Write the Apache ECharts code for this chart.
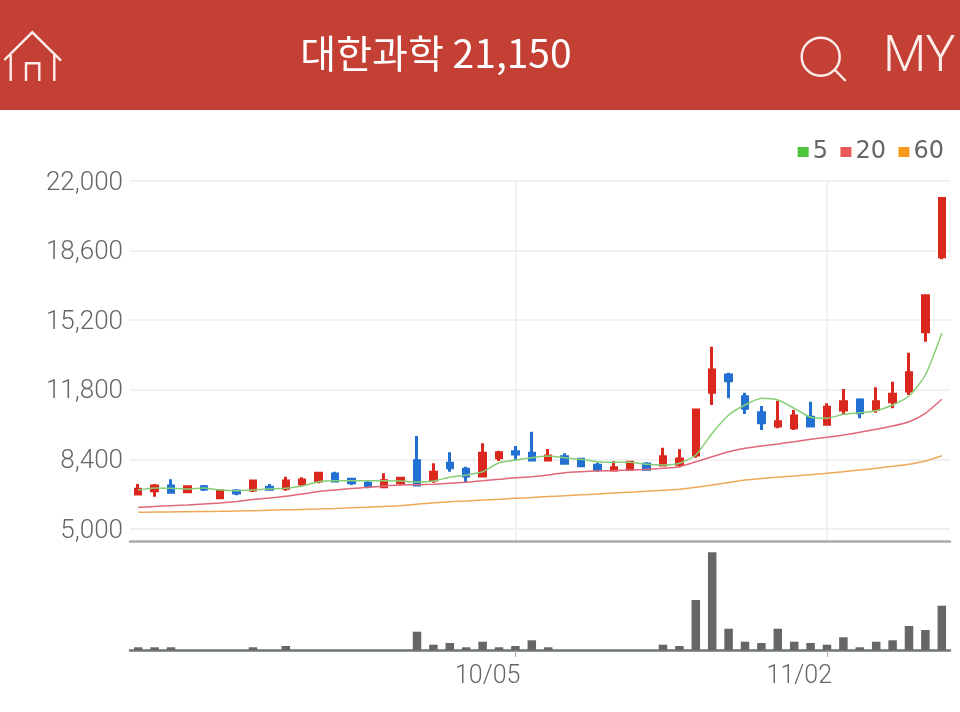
<!DOCTYPE html>
<html>
<head>
<meta charset="utf-8">
<title>대한과학</title>
<style>
html, body { margin: 0; padding: 0; background: #fff; }
#chart { width: 960px; height: 712px; }
</style>
<script src="https://cdn.jsdelivr.net/npm/echarts@6/dist/echarts.min.js"></script>
</head>
<body>
<div id="chart"></div>
<script>
var titleText = '대한과학 21,150';

var dates = ['08/28','08/31','09/01','09/02','09/03','09/04','09/07','09/08','09/09','09/10',
  '09/11','09/14','09/15','09/16','09/17','09/18','09/21','09/22','09/23','09/24',
  '09/25','09/28','09/29','10/05','10/06','10/07','10/08','10/12','10/13','10/14',
  '10/15','10/16','10/19','10/20','10/21','10/22','10/23','10/26','10/27','10/28',
  '10/29','10/30','11/02','11/03','11/04','11/05','11/06','11/09','11/10','11/11'];
var tickDates = ['10/05', '11/02'];
var priceTicks = [5000, 8400, 11800, 15200, 18600, 22000];

// open, close, low, high
var candles = [
  [6710,6939,6661,7198],[6871,7101,6578,7198],[7101,6793,6744,7428],[6822,7066,6744,7066],[7066,6954,6856,7149],
  [6529,6871,6514,6905],[6856,6759,6646,6939],[6905,7345,6807,7345],[7037,6939,6905,7198],[6988,7345,6871,7555],
  [7198,7394,7101,7526],[7345,7721,7232,7721],[7687,7345,7345,7799],[7428,7262,7149,7428],[7232,7101,6988,7345],
  [7066,7359,7052,7721],[7262,7477,7149,7555],[8336,7149,7149,9543],[7394,7770,7262,8209],[8209,7995,7799,8747],
  [7916,7589,7262,8043],[7589,8698,7589,9186],[8483,8727,8322,8825],[8776,8664,8336,9055],[8698,8371,8322,9753],
  [8371,8566,8371,8908],[8532,8209,8209,8698],[8405,8092,8092,8405],[8112,7916,7799,8239],[7882,7995,7848,8322],
  [7916,8258,7916,8336],[8175,7916,7916,8258],[8126,8532,8092,8972],[8161,8420,8014,8893],[8615,10813,8483,10813],
  [11678,12767,11057,13905],[12523,12245,11385,12635],[11463,10896,10618,11658],[10681,10193,9836,11009],[10032,10242,9919,11267],
  [9949,10520,9836,10813],[10457,10032,9968,11219],[10115,10945,10046,11141],[10813,11219,10603,11839],[11302,10681,10408,11385],
  [10847,11219,10681,11922],[11219,11580,10896,12196],[11741,12635,11546,13612],[14638,16397,14150,16397],[18302,21150,18175,21150]
];

var ma5 = [6905,7003,6988,6954,7003,6905,6871,6905,6954,6988,7101,7311,7359,7359,7359,7359,7345,7300,7345,7526,
  7638,7799,8239,8371,8483,8566,8483,8405,8288,8258,8258,8161,8126,8209,8615,9675,10569,11057,11385,11302,
  10896,10457,10408,10603,10681,10779,11057,11497,12523,14560];
var ma20 = [6060,6099,6138,6172,6221,6270,6343,6441,6514,6597,6710,6832,6905,6978,7037,7101,7149,7160,7184,7232,
  7281,7359,7428,7506,7555,7638,7750,7799,7833,7848,7882,7916,7965,8043,8288,8532,8776,8942,9055,9152,
  9265,9382,9480,9592,9724,9870,10032,10242,10652,11336];
var ma60 = [5816,5825,5835,5845,5855,5865,5880,5894,5915,5935,5955,5977,6005,6035,6065,6100,6138,6210,6285,6330,
  6370,6415,6455,6500,6540,6585,6625,6670,6710,6755,6800,6845,6890,6939,7040,7149,7270,7390,7470,7530,
  7590,7655,7721,7800,7885,7965,8060,8161,8320,8581];
var volumes = [2.7,2.7,2.7,0,0,0,0,2.7,0,4,0,0,0,0,0,0,0,18.3,5.3,7,
  2.7,8.3,2.7,4,9.7,2.7,0,0,0,0,0,0,5.3,4,50,97.7,21.3,8.3,7,21.3,
  8.3,7,5.3,12.7,2.7,8.3,9.7,24,20,44.3];

var RED = '#da281f';
var BLUE = '#2270d2';
var CJK = '"Noto Sans CJK KR", sans-serif';

function isTickDate(index, value) {
  return tickDates.indexOf(value) >= 0;
}

function maSeries(name, data, legendColor, lineColor) {
  return {
    name: name,
    type: 'line',
    data: data,
    xAxisIndex: 0,
    yAxisIndex: 0,
    symbol: 'none',
    smooth: 0.2,
    z: 3,
    itemStyle: { color: legendColor },
    lineStyle: { color: lineColor, width: 1.5 }
  };
}

var myChart = echarts.init(document.getElementById('chart'), null, { renderer: 'canvas' });

var option = {
  animation: false,
  backgroundColor: '#fff',
  textStyle: { fontFamily: 'Roboto, sans-serif' },
  legend: {
    data: ['5', '20', '60'],
    top: 135,
    right: 11,
    icon: 'rect',
    itemWidth: 11,
    itemHeight: 10,
    itemGap: 12.5,
    selectedMode: false,
    textStyle: { color: '#666', fontSize: 24, fontFamily: 'DejaVu Sans', fontWeight: 'normal', padding: [0, 0, 0, -1] }
  },
  grid: [
    { left: 130, right: 10, top: 181, height: 360 },
    { left: 130, right: 10, top: 552, height: 98 }
  ],
  xAxis: [{
    type: 'category',
    gridIndex: 0,
    data: dates,
    axisLine: { lineStyle: { color: '#aaa', width: 2.5 } },
    axisTick: { show: false },
    axisLabel: { show: false },
    splitLine: { show: true, interval: isTickDate, alignWithLabel: true, lineStyle: { color: '#ececec', width: 1.5 } }
  }, {
    type: 'category',
    gridIndex: 1,
    data: dates,
    axisLine: { lineStyle: { color: '#6d7678', width: 2.5 } },
    axisTick: { show: true, interval: isTickDate, alignWithLabel: true, length: 7, lineStyle: { color: '#aaa' } },
    axisLabel: {
      interval: isTickDate,
      align: 'right',
      margin: 14,
      padding: [0, -5, 0, 0],
      color: '#666',
      fontSize: 25,
      fontFamily: 'Roboto, sans-serif',
      fontWeight: 300
    },
    splitLine: { show: false }
  }],
  yAxis: [{
    type: 'value',
    gridIndex: 0,
    min: 4414,
    max: 22000,
    axisLine: { show: false },
    axisTick: { show: false, customValues: priceTicks },
    axisLabel: {
      customValues: priceTicks,
      margin: 7,
      verticalAlign: 'top',
      padding: [-11, 0, 0, 0],
      color: '#666',
      fontSize: 26,
      fontFamily: 'Roboto, sans-serif',
      fontWeight: 300,
      formatter: function(v) { return v.toLocaleString('en-US'); }
    },
    splitLine: { show: true, lineStyle: { color: '#ececec', width: 1.5 } }
  }, {
    type: 'value',
    gridIndex: 1,
    min: 0,
    max: 98,
    axisLine: { show: false },
    axisTick: { show: false },
    axisLabel: { show: false },
    splitLine: { show: false }
  }],
  series: [
    {
      name: 'price',
      type: 'candlestick',
      data: candles,
      xAxisIndex: 0,
      yAxisIndex: 0,
      barWidth: 6,
      z: 2,
      itemStyle: { color: RED, color0: BLUE, borderColor: RED, borderColor0: BLUE, borderWidth: 3 }
    },
    maSeries('5', ma5, '#4cc53c', '#86cf75'),
    maSeries('20', ma20, '#e85a5a', '#e0687a'),
    maSeries('60', ma60, '#f59a1d', '#eda958'),
    {
      name: 'volume',
      type: 'bar',
      data: volumes,
      xAxisIndex: 1,
      yAxisIndex: 1,
      barWidth: 8.5,
      itemStyle: { color: '#666' }
    }
  ],
  graphic: [
    { type: 'rect', shape: { x: 0, y: 0, width: 960, height: 110 }, style: { fill: '#c44035' }, z: 0 },
    { type: 'text', x: 436, y: 53, z: 1, style: { text: titleText, fill: '#fff', font: '400 39px ' + CJK, textAlign: 'center', textVerticalAlign: 'middle' } },
    // home icon
    { type: 'polyline', z: 1, shape: { points: [[4.3, 60], [32.3, 32.3], [61, 60.7]] }, style: { stroke: '#fdeeec', lineWidth: 2.4, fill: 'none' } },
    { type: 'line', z: 1, shape: { x1: 10.7, y1: 55, x2: 10.7, y2: 81 }, style: { stroke: '#fdeeec', lineWidth: 2.4 } },
    { type: 'line', z: 1, shape: { x1: 54.3, y1: 55, x2: 54.3, y2: 81 }, style: { stroke: '#fdeeec', lineWidth: 2.4 } },
    { type: 'polyline', z: 1, shape: { points: [[26, 81], [26, 63.3], [39.3, 63.3], [39.3, 81]] }, style: { stroke: '#fdeeec', lineWidth: 2.4, fill: 'none' } },
    // search icon
    { type: 'circle', z: 1, shape: { cx: 820.7, cy: 56.7, r: 19 }, style: { stroke: '#fdeeec', lineWidth: 2.4, fill: 'none' } },
    { type: 'line', z: 1, shape: { x1: 835, y1: 70, x2: 845.7, y2: 81 }, style: { stroke: '#fdeeec', lineWidth: 2.4 } },
    { type: 'text', x: 883, y: 58, z: 1, style: { text: 'MY', fill: '#fdeeec', font: '300 50px Roboto, sans-serif', textVerticalAlign: 'middle' } }
  ]
};

myChart.setOption(option);
</script>
</body>
</html>
